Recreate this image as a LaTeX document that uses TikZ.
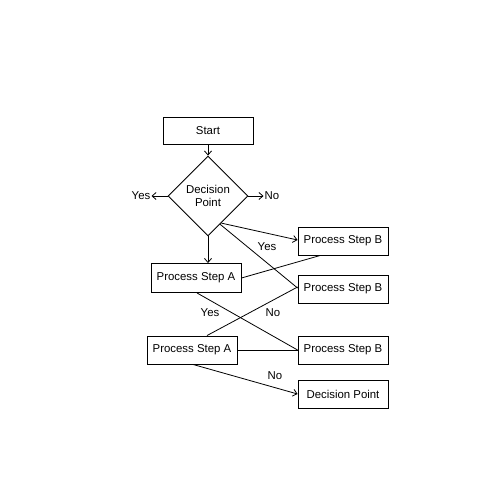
\documentclass[tikz,border=0pt]{standalone}
\usepackage{fontspec}
\setmainfont{Liberation Sans}
\usetikzlibrary{shapes.geometric,calc,arrows.meta}
\begin{document}
\begin{tikzpicture}[x=1pt,y=-1pt,
  font=\fontsize{11.4}{13}\selectfont,
  box/.style={draw,line width=0.9pt,minimum width=90pt,minimum height=28pt,inner sep=0pt},
  dec/.style={draw,line width=0.9pt,diamond,minimum width=80pt,minimum height=80pt,inner sep=0pt,align=center},
  lbl/.style={inner sep=1pt},
  conn/.style={line width=0.8pt},
  arr/.style={conn,-{Straight Barb[length=4pt,width=7pt]}}]
\useasboundingbox (0,0) rectangle (500,500);
\node[box,minimum height=27pt] (start) at (208,131) {Start};
\node[dec] (dia) at (208,196) {Decision\\Point};
\node[lbl] (yes1) at (141,196) {Yes};
\node[lbl] (no1) at (272,196) {No};
\node[box,minimum height=29pt] (a1) at (196,278) {Process Step A};
\node[box] (b1) at (343,241) {Process Step B};
\node[box] (b2) at (343,289) {Process Step B};
\node[box] (a2) at (192,350) {Process Step A};
\node[box] (b3) at (343,350) {Process Step B};
\node[box] (d2) at (343,394) {Decision Point};
\node[lbl] (yes2) at (267,247) {Yes};
\node[lbl] (yes3) at (210,313) {Yes};
\node[lbl] (no2) at (273,313) {No};
\node[lbl] (no3) at (275,376) {No};
\coordinate (p1) at ($(dia.east)!0.67!(dia.south)$);
\coordinate (p2) at ($(dia.east)!0.70!(dia.south)$);
\draw[arr] (start.south) -- (dia.north);
\draw[arr] (dia.west) -- (yes1.east);
\draw[arr] (dia.east) -- (no1.west);
\draw[arr] (dia.south) -- (dia.south |- a1.north);
\draw[arr] (p1) -- ($(b1.west)+(0,-1)$);
\draw[conn] (p2) -- ($(b2.west)+(0,-1)$);
\draw[conn] (a1.east) -- ($(b1.south west)!0.25!(b1.south east)$);
\draw[conn] ($(a1.south)+(1,0)$) -- (b3.west);
\draw[conn] ($(a2.north)+(15,0)$) -- ($(b2.west)+(0,-2)$);
\draw[conn] (a2.east) -- (b3.west);
\draw[arr] ($(a2.south)+(1,0)$) -- (d2.west);
\end{tikzpicture}
\end{document}
